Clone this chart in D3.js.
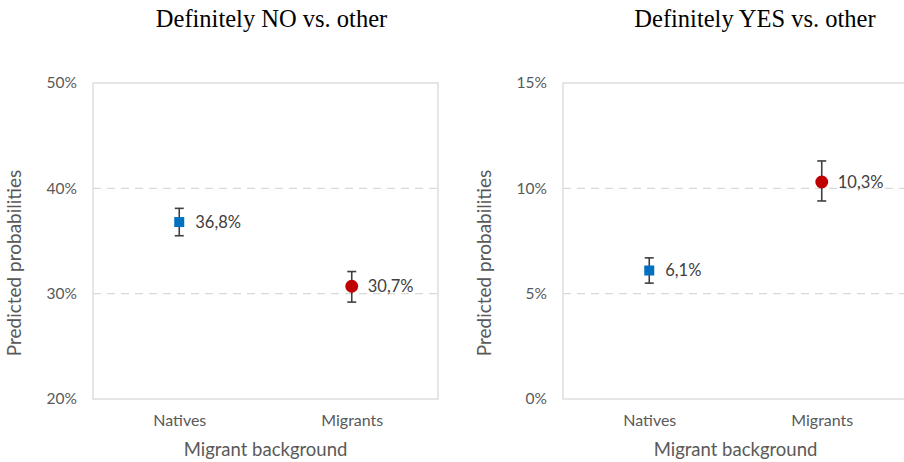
<!DOCTYPE html>
<html>
<head>
<meta charset="utf-8">
<script src="https://cdn.jsdelivr.net/npm/d3@7"></script>
<style>
  html, body { margin: 0; padding: 0; background: #fff; }
  svg { display: block; }
</style>
</head>
<body>
<svg id="chart" width="904" height="462"></svg>
<script>
// Predicted probabilities (%) with confidence intervals, by migrant background
const categories = ["Natives", "Migrants"];

const noTitle = "Definitely NO vs. other";
const noValues = [36.8, 30.7];
const noLower = [35.5, 29.2];
const noUpper = [38.1, 32.1];
const noTicks = [20, 30, 40, 50];

const yesTitle = "Definitely YES vs. other";
const yesValues = [6.1, 10.3];
const yesLower = [5.5, 9.4];
const yesUpper = [6.7, 11.3];
const yesTicks = [0, 5, 10, 15];

const markerColors = ["#0070c0", "#c00000"];
const markerShapes = [d3.symbolSquare, d3.symbolCircle];

const fmt = v => d3.format(".1f")(v).replace(".", ",") + "%";

const sans = "Lato, 'Open Sans', sans-serif";
const svg = d3.select("#chart");

function panel(opts) {
  const { left, right, top, bottom, title, titleX, values, lower, upper, ticks } = opts;
  const g = svg.append("g");

  const x = d3.scalePoint().domain(categories).range([left, right]).padding(0.5);
  const y = d3.scaleLinear().domain([ticks[0], ticks[ticks.length - 1]]).range([bottom, top]);

  // chart title
  g.append("text")
    .attr("x", titleX).attr("y", 27)
    .attr("text-anchor", "middle")
    .style("font-family", "'Liberation Serif', 'Times New Roman', serif")
    .style("font-size", "24.5px")
    .attr("fill", "#000")
    .text(title);

  // dashed gridlines (inner ticks only)
  g.selectAll(".grid").data(ticks.slice(1, -1)).join("line")
    .attr("x1", left).attr("x2", right)
    .attr("y1", d => y(d)).attr("y2", d => y(d))
    .attr("stroke", "#d9d9d9").attr("stroke-width", 1.3)
    .attr("stroke-dasharray", "8,6");

  // plot frame
  g.append("rect")
    .attr("x", left).attr("y", top)
    .attr("width", right - left).attr("height", bottom - top)
    .attr("fill", "none").attr("stroke", "#d9d9d9").attr("stroke-width", 1.3);

  // y axis labels
  const yAxis = d3.axisLeft(y).tickValues(ticks).tickSize(0).tickPadding(16).tickFormat(d => d + "%");
  const ya = g.append("g").attr("transform", `translate(${left},0)`).call(yAxis);
  ya.select(".domain").remove();
  ya.selectAll("text")
    .style("font-family", sans)
    .style("font-size", "15.5px").attr("fill", "#595959");

  // x axis labels
  const xAxis = d3.axisBottom(x).tickSize(0).tickPadding(16);
  const xa = g.append("g").attr("transform", `translate(0,${bottom})`).call(xAxis);
  xa.select(".domain").remove();
  xa.selectAll("text")
    .style("font-family", sans)
    .style("font-size", "16px").attr("fill", "#595959");

  // axis titles
  g.append("text")
    .attr("x", (left + right) / 2).attr("y", 456)
    .attr("text-anchor", "middle")
    .style("font-family", sans)
    .style("font-size", "18.5px").attr("fill", "#595959")
    .text("Migrant background");

  g.append("text")
    .attr("transform", `translate(${left - 72},${(top + bottom) / 2 + 22}) rotate(-90)`)
    .attr("text-anchor", "middle")
    .style("font-family", sans)
    .style("font-size", "19px").attr("fill", "#595959")
    .text("Predicted probabilities");

  const data = categories.map((c, i) => ({ c, i, v: values[i], lo: lower[i], hi: upper[i] }));

  // error bars with caps
  const eb = g.selectAll(".eb").data(data).join("g");
  eb.append("line")
    .attr("x1", d => x(d.c)).attr("x2", d => x(d.c))
    .attr("y1", d => y(d.lo)).attr("y2", d => y(d.hi))
    .attr("stroke", "#404040").attr("stroke-width", 1.6);
  eb.append("line")
    .attr("x1", d => x(d.c) - 4.5).attr("x2", d => x(d.c) + 4.5)
    .attr("y1", d => y(d.lo)).attr("y2", d => y(d.lo))
    .attr("stroke", "#404040").attr("stroke-width", 1.6);
  eb.append("line")
    .attr("x1", d => x(d.c) - 4.5).attr("x2", d => x(d.c) + 4.5)
    .attr("y1", d => y(d.hi)).attr("y2", d => y(d.hi))
    .attr("stroke", "#404040").attr("stroke-width", 1.6);

  // markers
  g.selectAll(".pt").data(data).join("path")
    .attr("transform", d => `translate(${x(d.c)},${y(d.v)})`)
    .attr("d", d => d3.symbol().type(markerShapes[d.i]).size(d.i === 0 ? 100 : 130)())
    .attr("fill", d => markerColors[d.i]);

  // value labels
  g.selectAll(".lbl").data(data).join("text")
    .attr("x", d => x(d.c) + 16).attr("y", d => y(d.v) + 6)
    .style("font-family", sans)
    .style("font-size", "16.5px").attr("fill", "#404040")
    .text(d => fmt(d.v));
}

panel({ left: 93, right: 438, top: 83, bottom: 399, title: noTitle, titleX: 271.5,
        values: noValues, lower: noLower, upper: noUpper, ticks: noTicks });
panel({ left: 563, right: 908, top: 83, bottom: 399, title: yesTitle, titleX: 755,
        values: yesValues, lower: yesLower, upper: yesUpper, ticks: yesTicks });
</script>
</body>
</html>
